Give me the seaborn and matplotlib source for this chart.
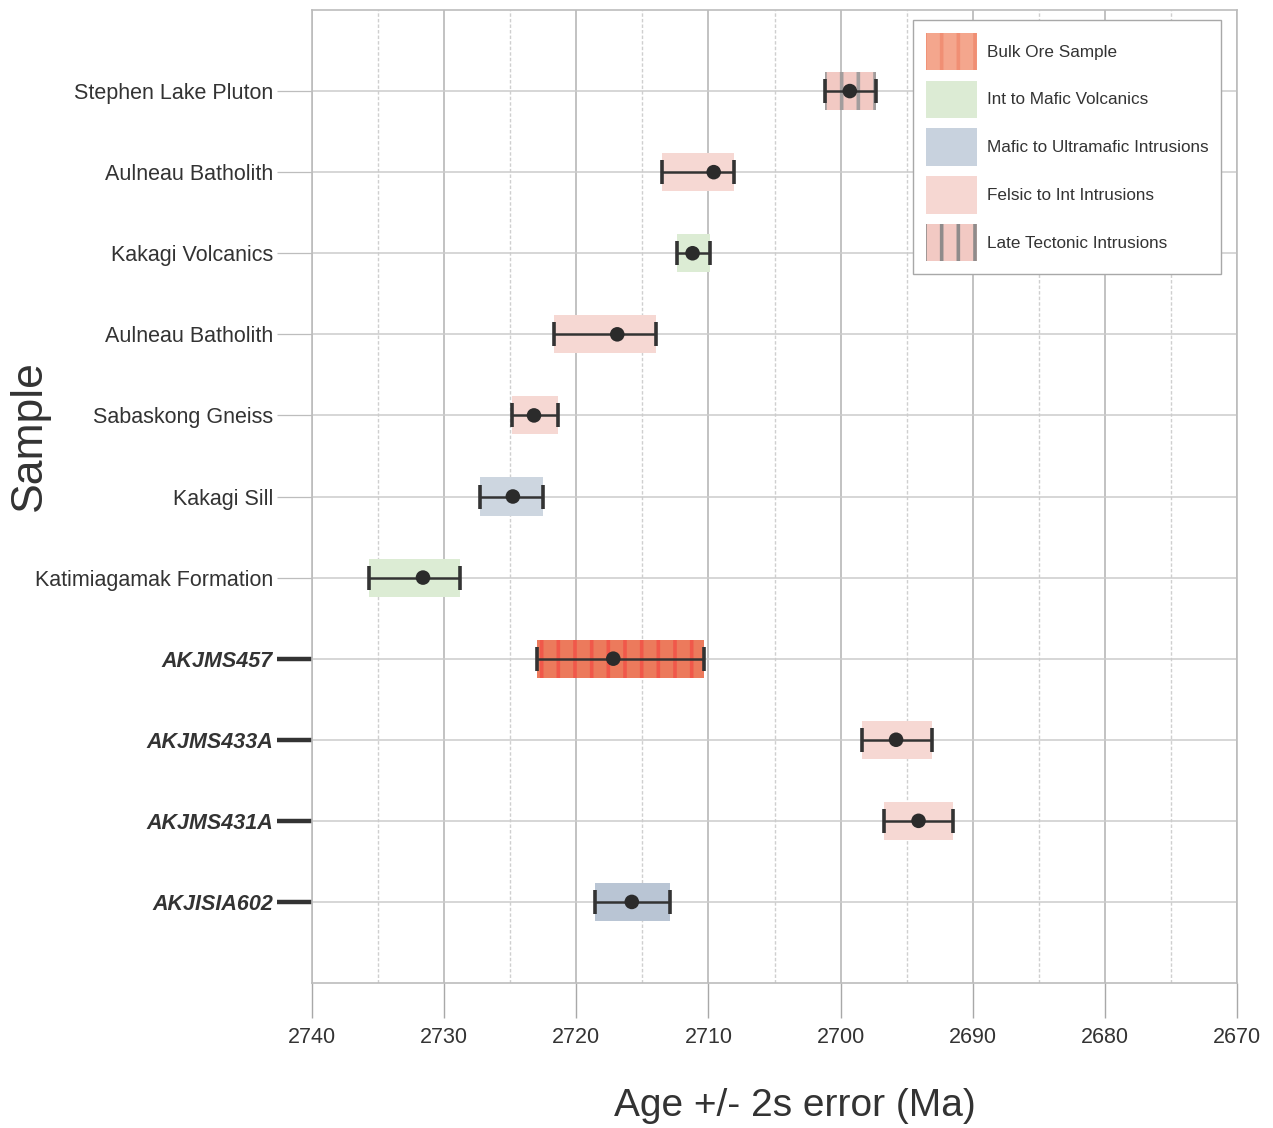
import numpy as np
import pandas as pd
import matplotlib
matplotlib.use("Agg")
import matplotlib.pyplot as plt
from matplotlib.patches import Patch
from matplotlib.ticker import MultipleLocator
import seaborn as sns

# U-Pb ages (Ma) with the older/younger ends of the 2-sigma range
samples = ["Stephen Lake Pluton", "Aulneau Batholith", "Kakagi Volcanics",
           "Aulneau Batholith", "Sabaskong Gneiss", "Kakagi Sill",
           "Katimiagamak Formation", "AKJMS457", "AKJMS433A", "AKJMS431A",
           "AKJISIA602"]
age = [2699.3, 2709.6, 2711.2, 2716.9, 2723.2, 2724.8, 2731.6, 2717.2,
       2695.8, 2694.1, 2715.8]
age_old = [2701.2, 2713.5, 2712.4, 2721.7, 2724.9, 2727.3, 2735.7, 2723.0,
           2698.4, 2696.7, 2718.6]
age_young = [2697.3, 2708.1, 2709.9, 2714.0, 2721.4, 2722.5, 2728.8, 2710.3,
             2693.1, 2691.5, 2712.9]
rock_type = ["Late Tectonic Intrusions", "Felsic to Int Intrusions",
             "Int to Mafic Volcanics", "Felsic to Int Intrusions",
             "Felsic to Int Intrusions", "Mafic to Ultramafic Intrusions",
             "Int to Mafic Volcanics", "Bulk Ore Sample",
             "Felsic to Int Intrusions", "Felsic to Int Intrusions",
             "Mafic to Ultramafic Intrusions"]
study_samples = ["AKJMS457", "AKJMS433A", "AKJMS431A", "AKJISIA602"]

legend_order = ["Bulk Ore Sample", "Int to Mafic Volcanics",
                "Mafic to Ultramafic Intrusions", "Felsic to Int Intrusions",
                "Late Tectonic Intrusions"]

# fill colour, stripe colour and hatch for each rock type (plot / legend)
fill = {"Bulk Ore Sample": "#ec7a5c",
        "Int to Mafic Volcanics": "#dcecd4",
        "Mafic to Ultramafic Intrusions": "#cdd6e0",
        "Felsic to Int Intrusions": "#f6d8d3",
        "Late Tectonic Intrusions": "#f2c9c3"}
legend_fill = {"Bulk Ore Sample": "#f4a68d",
               "Int to Mafic Volcanics": "#dcebd4",
               "Mafic to Ultramafic Intrusions": "#c8d2de",
               "Felsic to Int Intrusions": "#f6d7d2",
               "Late Tectonic Intrusions": "#f2c9c3"}
stripe = {"Bulk Ore Sample": "#f0584a", "Late Tectonic Intrusions": "#a39d9d"}
legend_stripe = {"Bulk Ore Sample": "#f08f74", "Late Tectonic Intrusions": "#8f8b8b"}
fill_override = {"AKJISIA602": "#b9c5d4"}

df = pd.DataFrame({"sample": samples, "age": age, "old": age_old,
                   "young": age_young, "type": rock_type})
df["pos"] = np.arange(len(df))

sns.set_theme(style="whitegrid")
plt.rcParams["font.family"] = ["Liberation Sans", "DejaVu Sans"]
plt.rcParams["hatch.linewidth"] = 2.6

fig = plt.figure(figsize=(12.73, 11.28), dpi=100)
ax = fig.add_axes([312 / 1273, 1 - 983 / 1128, 925 / 1273, 973 / 1128])

# age-range boxes
for _, r in df.iterrows():
    t = r["type"]
    face = fill_override.get(r["sample"], fill[t])
    hatched = t in stripe
    ax.barh(r["pos"], r["old"] - r["young"], left=r["young"], height=0.47,
            color=face, edgecolor=stripe.get(t, face), linewidth=0,
            hatch="|" if hatched else None, zorder=2)

# 2-sigma error bars (lower = toward younger ages)
ax.errorbar(df["age"], df["pos"],
            xerr=[df["age"] - df["young"], df["old"] - df["age"]],
            fmt="none", ecolor="#333333", elinewidth=1.8, capsize=8.5,
            capthick=2.6, zorder=3)

# measured ages
sns.scatterplot(data=df, x="age", y="pos", ax=ax, color="#2b2b2b", s=110,
                edgecolor="none", zorder=4, legend=False)

ax.set_xlim(2740, 2670)
ax.set_ylim(len(df), -1)
ax.xaxis.set_major_locator(MultipleLocator(10))
ax.xaxis.set_minor_locator(MultipleLocator(5))
ax.grid(which="major", axis="x", color="#b8b8b8", linewidth=1.2, linestyle="-")
ax.grid(which="minor", axis="x", color="#cfcfcf", linewidth=1.0,
        linestyle=(0, (2.5, 1.5)))
ax.grid(which="major", axis="y", color="#cccccc", linewidth=1.1)
ax.set_axisbelow(True)

for side in ["left", "right", "top", "bottom"]:
    ax.spines[side].set_color("#bcbcbc")
    ax.spines[side].set_linewidth(1.2)

ax.tick_params(axis="x", which="major", bottom=True, length=25, width=1.0,
               color="#a8a8a8", labelsize=15.5, labelcolor="#333333", pad=7)
ax.tick_params(axis="x", which="minor", bottom=False)
ax.tick_params(axis="y", left=True, length=25, width=0.9, color="#bdbdbd",
               labelsize=15.5, labelcolor="#333333", pad=3)

ax.set_yticks(df["pos"])
ax.set_yticklabels(df["sample"])
for tick, lab in zip(ax.yaxis.get_major_ticks(), df["sample"]):
    if lab in study_samples:
        tick.tick1line.set_markeredgecolor("#333333")
        tick.tick1line.set_markeredgewidth(3.2)
        tick.label1.set_fontweight("bold")
        tick.label1.set_fontstyle("italic")

ax.set_xlabel("Age +/- 2s error (Ma)", fontsize=28, color="#333333")
ax.xaxis.set_label_coords(0.522, -0.108)
ax.set_ylabel("Sample", fontsize=32, color="#333333")
ax.yaxis.set_label_coords(-0.283, 0.563)

handles = []
for t in legend_order:
    handles.append(Patch(facecolor=legend_fill[t],
                         edgecolor=legend_stripe.get(t, legend_fill[t]),
                         linewidth=0, hatch="|" if t in legend_stripe else None))
leg = ax.legend(handles, legend_order, loc="upper right",
                bbox_to_anchor=(1 - 16 / 925, 1 - 10 / 973), fontsize=12.3,
                handlelength=3.0, handleheight=3.0, labelspacing=0.6,
                handletextpad=0.55, borderpad=0.75, borderaxespad=0.0,
                fancybox=False, framealpha=1, edgecolor="#a8a8a8")
leg.get_frame().set_linewidth(1.0)
for txt in leg.get_texts():
    txt.set_color("#333333")

fig.savefig("out.png", dpi=100)
